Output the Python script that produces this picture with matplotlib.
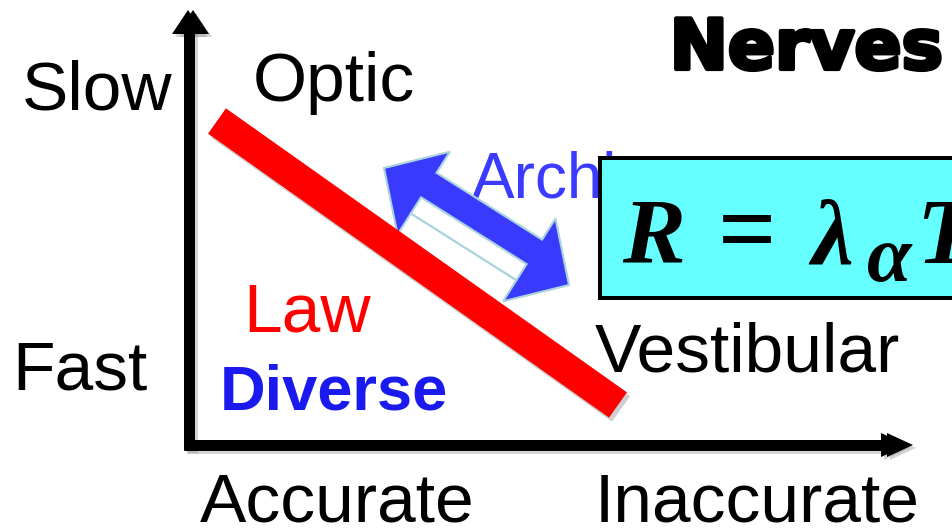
import numpy as np
import matplotlib
matplotlib.use("Agg")
import matplotlib.pyplot as plt
from matplotlib.patches import Polygon, Rectangle
import matplotlib.patheffects as pe

plt.rcParams['mathtext.fontset'] = 'custom'
plt.rcParams['mathtext.it'] = 'Liberation Serif:italic:bold'
plt.rcParams['mathtext.rm'] = 'Liberation Serif:bold'
plt.rcParams['mathtext.bf'] = 'Liberation Serif:italic:bold'

# ---- content ----
y_labels = ["Slow", "Fast"]
x_labels = ["Accurate", "Inaccurate"]
nerve_labels = ["Optic", "Vestibular"]
law_labels = ["Law", "Diverse"]
arch_label = "Architect"
title = "Nerves"
formula_parts = [r"$R$", "=", r"$\lambda$", r"$\alpha$", r"$T$"]
# trade-off line (speed-accuracy law), in canvas pixels
law_x = [217, 618]
law_y = [121, 405]
# architecture double arrow endpoints
arch_x = [384, 569]
arch_y = [168, 285]

W, H, DPI = 953, 531, 100
PX = 72.0 / DPI

fig = plt.figure(figsize=(W / DPI, H / DPI), dpi=DPI)
ax = fig.add_axes([0, 0, 1, 1])
ax.set_xlim(0, W)
ax.set_ylim(H, 0)
ax.axis("off")

FONT = "Liberation Sans"

# ---- axes (with subtle shadow) ----
def head(tip, direction, length, width, **kw):
    d = np.array(direction, float); d /= np.linalg.norm(d)
    n = np.array([-d[1], d[0]])
    tip = np.array(tip, float)
    base = tip - d * length
    pts = [tip, base + n * width / 2, base - n * width / 2]
    ax.add_patch(Polygon(pts, closed=True, **kw))

for off, col, a, z in [(3, "#888888", 0.35, 1), (0, "black", 1.0, 2)]:
    ax.plot([189 + off, 189 + off], [450 + off, 30 + off], color=col, alpha=a,
            lw=11 * PX, solid_capstyle="butt", zorder=z)
    ax.plot([184 + off, 890 + off], [445 + off, 445 + off], color=col, alpha=a,
            lw=11 * PX, solid_capstyle="butt", zorder=z)
    for dx in (0, 5):
        head((188 + dx + off, 10 + off), (0, -1), 24, 32, color=col, alpha=a,
             lw=0, zorder=z)
    for dx in (0, -6):
        head((913 + dx + off, 445 + off), (1, 0), 26, 24, color=col, alpha=a,
             lw=0, zorder=z)

# ---- blue double-headed arrow ----
P0 = np.array([arch_x[0], arch_y[0]], float)
P1 = np.array([arch_x[1], arch_y[1]], float)
d = (P1 - P0) / np.linalg.norm(P1 - P0)
n = np.array([-d[1], d[0]])
if n[1] < 0:
    n = -n  # n points towards the lower side
hl, hw, sw = 47, 49, 24
poly = [P0, P0 + d * hl + n * hw, P0 + d * hl + n * sw, P1 - d * hl + n * sw,
        P1 - d * hl + n * hw, P1, P1 - d * hl - n * hw, P1 - d * hl - n * sw,
        P0 + d * hl - n * sw, P0 + d * hl - n * hw]
ax.add_patch(Polygon(poly, closed=True, facecolor="#3a3aff",
                     edgecolor="#a9d4dc", lw=1.5, zorder=4))
wpoly = [P0 + d * hl + n * sw, P1 - d * hl + n * sw,
         P1 - d * hl + n * (sw - 19), P0 + d * hl + n * (sw - 19)]
ax.add_patch(Polygon(wpoly, closed=True, facecolor="white",
                     edgecolor="#a9d4dc", lw=1.5, zorder=5))

# ---- red trade-off band ----
ax.plot(np.array(law_x) + 3, np.array(law_y) + 4, color="#777777", alpha=0.35,
        lw=31 * PX, solid_capstyle="butt", zorder=5)
ax.plot(law_x, law_y, color="#ff0000", lw=31 * PX, solid_capstyle="butt",
        zorder=6)

# ---- texts ----
FS = 50
ax.text(22, 110, y_labels[0], fontsize=FS, family=FONT, va="baseline", zorder=7)
ax.text(12, 390, y_labels[1], fontsize=FS, family=FONT, va="baseline", zorder=7)
ax.text(200, 522, x_labels[0], fontsize=FS, family=FONT, va="baseline", zorder=7)
ax.text(595, 522, x_labels[1], fontsize=FS, family=FONT, va="baseline", zorder=7)
ax.text(253, 101, nerve_labels[0], fontsize=FS, family=FONT, va="baseline", zorder=7)
ax.text(595, 372, nerve_labels[1], fontsize=FS, family=FONT, va="baseline", zorder=7)
ax.text(243, 332, law_labels[0], fontsize=FS, family=FONT, color="#ff0000",
        va="baseline", zorder=7)
ax.text(220, 409, law_labels[1], fontsize=45.5, family=FONT, weight="bold",
        color="#1a1aee", va="baseline", zorder=7)
ax.text(472, 197, arch_label, fontsize=46, family=FONT, color="#3b3bff",
        va="baseline", zorder=3)
ax.text(943, 69, title, fontsize=50, family="DejaVu Sans", weight="bold",
        ha="right", va="baseline", zorder=7,
        path_effects=[pe.withStroke(linewidth=3, foreground="black")])

# ---- formula box ----
ax.add_patch(Rectangle((600, 158), 400, 140, facecolor="#66ffff",
                       edgecolor="black", lw=4 * PX, zorder=8, clip_on=False))
# pieces placed along the baseline: (left x, baseline y, size)
f_x = [622, 718, 808, 866, 916]
f_y = [263, 263, 263, 281, 263]
f_s = [68, 74, 68, 58, 68]
for s, x, y, fs in zip(formula_parts, f_x, f_y, f_s):
    ax.text(x, y, s, fontsize=fs, va="baseline", ha="left", zorder=9,
            family="Liberation Serif", weight="bold")

fig.savefig("out.png", dpi=DPI)
